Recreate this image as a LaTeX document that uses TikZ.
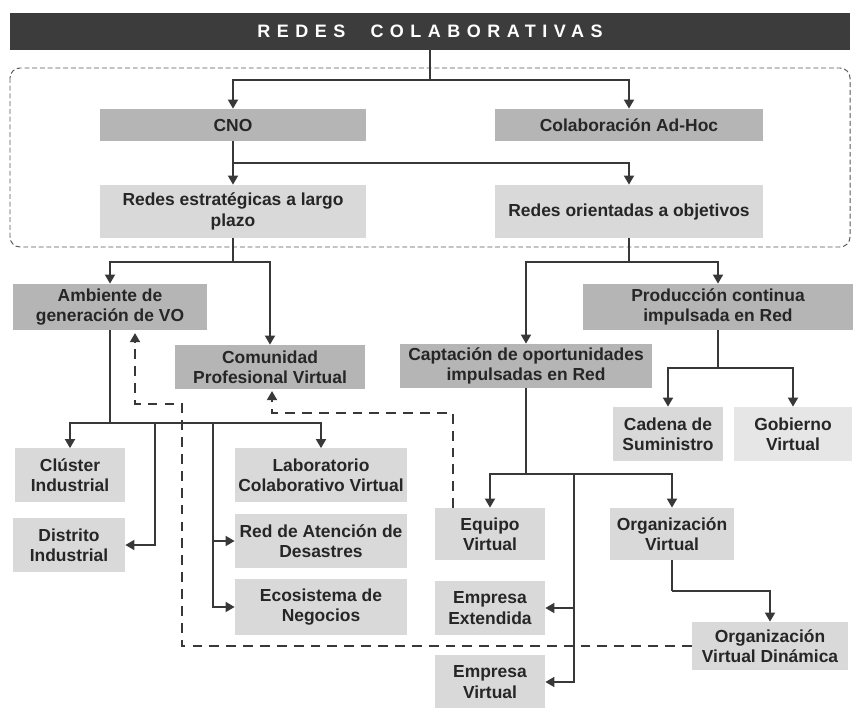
\documentclass[tikz,border=0pt]{standalone}
\usepackage{fontspec}
\setmainfont{Liberation Sans}
\newfontfamily\titlefont[LetterSpace=36]{Liberation Sans Bold}
\usetikzlibrary{arrows.meta}
\definecolor{bardark}{HTML}{3C3C3C}
\definecolor{boxmid}{HTML}{B5B5B5}
\definecolor{boxlight}{HTML}{D9D9D9}
\definecolor{boxpale}{HTML}{E6E6E6}
\definecolor{linkgray}{HTML}{383838}
\definecolor{textgray}{HTML}{262626}
\begin{document}
\begin{tikzpicture}[x=0.025cm, y=-0.025cm,
  >={Triangle[length=6.5pt,width=7pt]},
  box/.style={rectangle, inner sep=0pt, align=center, text=textgray, font=\fontsize{12.4}{14.4}\selectfont\bfseries},
  midbox/.style={box, fill=boxmid},
  lightbox/.style={box, fill=boxlight},
  palebox/.style={box, fill=boxpale},
  titlebar/.style={rectangle, inner sep=0pt, fill=bardark, text=white, font=\fontsize{12.8}{15}\titlefont},
  link/.style={draw=linkgray, line width=2pt},
  backlink/.style={link, dash pattern=on 7pt off 5pt},
  group/.style={draw=black!65, line width=0.7pt, dash pattern=on 3.5pt off 2pt, rounded corners=0.25cm}]
\useasboundingbox (0,0) rectangle (854,708);
\draw[group] (10,68) rectangle (850,247);
\node[titlebar, minimum width=21cm, minimum height=0.925cm] (title) at (430,31.5) {REDES\hspace{1.4em}COLABORATIVAS};
\node[midbox, minimum width=6.65cm, minimum height=0.8cm] (cno) at (233,125) {CNO};
\node[midbox, minimum width=6.7cm, minimum height=0.8cm] (adhoc) at (629,125) {Colaboración Ad-Hoc};
\node[lightbox, minimum width=6.65cm, minimum height=1.325cm] (redesE) at (233,211.5) {Redes estratégicas a largo\\plazo};
\node[lightbox, minimum width=6.7cm, minimum height=1.325cm] (redesO) at (629,211.5) {Redes orientadas a objetivos};
\node[midbox, minimum width=4.85cm, minimum height=1.15cm] (ambiente) at (110,307) {Ambiente de\\generación de VO};
\node[midbox, minimum width=4.75cm, minimum height=1.1cm] (comunidad) at (270,367) {Comunidad\\Profesional Virtual};
\node[midbox, minimum width=6.75cm, minimum height=1.15cm] (produccion) at (718,307) {Producción continua\\impulsada en Red};
\node[midbox, minimum width=6.3cm, minimum height=1.1cm] (captacion) at (526,366) {Captación de oportunidades\\impulsadas en Red};
\node[lightbox, minimum width=2.75cm, minimum height=1.35cm] (cadena) at (668,434) {Cadena de\\Suministro};
\node[palebox, minimum width=2.95cm, minimum height=1.35cm] (gobierno) at (793,434) {Gobierno\\Virtual};
\node[lightbox, minimum width=2.75cm, minimum height=1.325cm] (cluster) at (70,475) {Clúster\\Industrial};
\node[lightbox, minimum width=2.8cm, minimum height=1.325cm] (distrito) at (69,545) {Distrito\\Industrial};
\node[lightbox, minimum width=4.3cm, minimum height=1.325cm] (laboratorio) at (321,475) {Laboratorio\\Colaborativo Virtual};
\node[lightbox, minimum width=4.3cm, minimum height=1.325cm] (atencion) at (321,541) {Red de Atención de\\Desastres};
\node[lightbox, minimum width=4.3cm, minimum height=1.375cm] (ecosistema) at (321,607) {Ecosistema de\\Negocios};
\node[lightbox, minimum width=2.75cm, minimum height=1.3cm] (equipo) at (490,534) {Equipo\\Virtual};
\node[lightbox, minimum width=3.075cm, minimum height=1.3cm] (orgv) at (672,534) {Organización\\Virtual};
\node[lightbox, minimum width=2.75cm, minimum height=1.325cm] (empext) at (490,608) {Empresa\\Extendida};
\node[lightbox, minimum width=2.75cm, minimum height=1.325cm] (empv) at (490,682) {Empresa\\Virtual};
\node[lightbox, minimum width=3.9cm, minimum height=1.2cm] (ovd) at (770,646) {Organización\\Virtual Dinámica};
% junctions
\coordinate (j1) at (430,80);
\coordinate (j2) at (233,163);
\coordinate (j3) at (233,262);
\coordinate (j4) at (629,262);
\coordinate (j5) at (718,368);
\coordinate (j6) at (526,474);
\coordinate (j7) at (574,474);
\coordinate (j8) at (672,591);
\coordinate (j9) at (110,423);
\coordinate (j10) at (155,423);
\coordinate (j11) at (213,423);
\coordinate (d1) at (182,404);
\coordinate (d2) at (453,413);
\coordinate (eqOut) at (453,508);
\coordinate (ambIn) at (135,333);
\coordinate (comIn) at (272,391);
% tree
\draw[link] (title.south) -- (j1);
\draw[link, ->] (j1) -| (cno.north);
\draw[link, ->] (j1) -| (adhoc.north);
\draw[link, ->] (cno.south) -- (redesE.north);
\draw[link, ->] (j2) -| (redesO.north);
\draw[link] (redesE.south) -- (j3);
\draw[link, ->] (j3) -| (ambiente.north);
\draw[link, ->] (j3) -| (comunidad.north);
\draw[link] (redesO.south) -- (j4);
\draw[link, ->] (j4) -| (captacion.north);
\draw[link, ->] (j4) -| (produccion.north);
\draw[link] (produccion.south) -- (j5);
\draw[link, ->] (j5) -| (cadena.north);
\draw[link, ->] (j5) -| (gobierno.north);
\draw[link] (captacion.south) -- (j6);
\draw[link, ->] (j6) -| (equipo.north);
\draw[link, ->] (j6) -| (orgv.north);
\draw[link, ->] (j7) |- (empext.east);
\draw[link, ->] (j7) |- (empv.east);
\draw[link] (orgv.south) -- (j8);
\draw[link, ->] (j8) -| (ovd.north);
\draw[link] (ambiente.south) -- (j9);
\draw[link, ->] (j9) -| (cluster.north);
\draw[link, ->] (j9) -| (laboratorio.north);
\draw[link, ->] (j10) |- (distrito.east);
\draw[link, ->] (j11) |- (atencion.west);
\draw[link, ->] (j11) |- (ecosistema.west);
% dashed return paths
\draw[backlink, ->] (ovd.west) -| (d1) -| (ambIn);
\draw[backlink, ->] (eqOut) -- (d2) -| (comIn);
\end{tikzpicture}
\end{document}
